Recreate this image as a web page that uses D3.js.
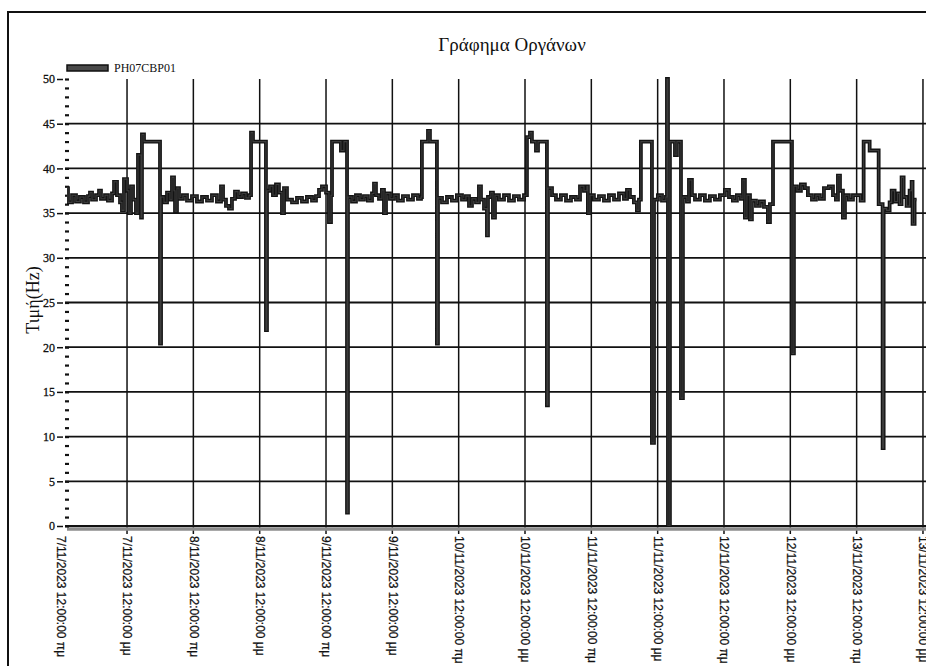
<!DOCTYPE html>
<html>
<head>
<meta charset="utf-8">
<script src="https://cdn.jsdelivr.net/npm/d3@7"></script>
<style>
  body { margin: 0; background: #fff; }
  svg { display: block; }
</style>
</head>
<body>
<svg id="chart" width="926" height="666"></svg>
<script>
// ---- data -------------------------------------------------------------
const chartTitle = "Γράφημα Οργάνων";
const seriesName = "PH07CBP01";
const yAxisTitle = "Τιμή(Hz)";

// sample timestamps (local time) and the instrument reading held from each one
const times = [
  "2023-11-07 01:08","2023-11-07 01:19","2023-11-07 02:03","2023-11-07 02:46","2023-11-07 03:29",
  "2023-11-07 04:13","2023-11-07 04:56","2023-11-07 05:18","2023-11-07 05:40","2023-11-07 06:23",
  "2023-11-07 06:56","2023-11-07 07:17","2023-11-07 08:01","2023-11-07 08:33","2023-11-07 09:17",
  "2023-11-07 09:39","2023-11-07 10:11","2023-11-07 10:44","2023-11-07 11:05","2023-11-07 11:27",
  "2023-11-07 12:00","2023-11-07 12:21","2023-11-07 12:43","2023-11-07 13:05","2023-11-07 13:37",
  "2023-11-07 13:59","2023-11-07 14:32","2023-11-07 14:42","2023-11-07 15:04","2023-11-07 17:58",
  "2023-11-07 18:09","2023-11-07 18:41","2023-11-07 19:14","2023-11-07 19:46","2023-11-07 20:08",
  "2023-11-07 20:30","2023-11-07 20:41","2023-11-07 21:02","2023-11-07 21:24","2023-11-07 22:07",
  "2023-11-07 22:51","2023-11-07 23:45",
  "2023-11-08 00:39","2023-11-08 01:34","2023-11-08 02:28","2023-11-08 03:22","2023-11-08 04:16",
  "2023-11-08 05:00","2023-11-08 05:22","2023-11-08 05:54","2023-11-08 06:27","2023-11-08 06:59",
  "2023-11-08 07:32","2023-11-08 08:04","2023-11-08 08:48","2023-11-08 09:31","2023-11-08 10:04",
  "2023-11-08 10:26","2023-11-08 10:47","2023-11-08 13:08","2023-11-08 13:19","2023-11-08 13:52",
  "2023-11-08 14:24","2023-11-08 14:57","2023-11-08 15:29","2023-11-08 16:02","2023-11-08 16:24",
  "2023-11-08 16:56","2023-11-08 17:51","2023-11-08 18:45","2023-11-08 19:39","2023-11-08 20:33",
  "2023-11-08 21:28","2023-11-08 22:11","2023-11-08 22:44","2023-11-08 23:16",
  "2023-11-09 00:00","2023-11-09 00:32","2023-11-09 00:54","2023-11-09 01:05","2023-11-09 02:42",
  "2023-11-09 03:15","2023-11-09 03:48","2023-11-09 03:58","2023-11-09 04:42","2023-11-09 05:25",
  "2023-11-09 06:09","2023-11-09 06:52","2023-11-09 07:35","2023-11-09 08:19","2023-11-09 08:41",
  "2023-11-09 09:02","2023-11-09 09:35","2023-11-09 10:07","2023-11-09 10:29","2023-11-09 10:51",
  "2023-11-09 11:34","2023-11-09 12:18","2023-11-09 13:01","2023-11-09 13:55","2023-11-09 14:50",
  "2023-11-09 15:44","2023-11-09 16:38","2023-11-09 17:11","2023-11-09 17:21","2023-11-09 18:27",
  "2023-11-09 18:48","2023-11-09 20:04","2023-11-09 20:15","2023-11-09 20:59","2023-11-09 21:53",
  "2023-11-09 22:47","2023-11-09 23:41",
  "2023-11-10 00:36","2023-11-10 01:19","2023-11-10 01:52","2023-11-10 02:24","2023-11-10 03:08",
  "2023-11-10 03:40","2023-11-10 04:02","2023-11-10 04:35","2023-11-10 05:07","2023-11-10 05:18",
  "2023-11-10 05:50","2023-11-10 06:12","2023-11-10 06:34","2023-11-10 07:17","2023-11-10 08:12",
  "2023-11-10 09:06","2023-11-10 10:00","2023-11-10 10:54","2023-11-10 11:49","2023-11-10 12:21",
  "2023-11-10 12:54","2023-11-10 13:15","2023-11-10 13:59","2023-11-10 14:21","2023-11-10 15:58",
  "2023-11-10 16:09","2023-11-10 16:53","2023-11-10 17:36","2023-11-10 18:30","2023-11-10 19:25",
  "2023-11-10 20:19","2023-11-10 21:13","2023-11-10 21:57","2023-11-10 22:40","2023-11-10 23:12",
  "2023-11-10 23:23","2023-11-10 23:45",
  "2023-11-11 00:28","2023-11-11 01:23","2023-11-11 02:17","2023-11-11 03:11","2023-11-11 04:06",
  "2023-11-11 05:00","2023-11-11 05:54","2023-11-11 06:27","2023-11-11 06:59","2023-11-11 07:42",
  "2023-11-11 08:15","2023-11-11 08:37","2023-11-11 08:58","2023-11-11 10:58","2023-11-11 11:20",
  "2023-11-11 12:03","2023-11-11 12:47","2023-11-11 13:30","2023-11-11 13:41","2023-11-11 13:52",
  "2023-11-11 14:13","2023-11-11 15:08","2023-11-11 15:29","2023-11-11 16:13","2023-11-11 16:34",
  "2023-11-11 17:18","2023-11-11 17:40","2023-11-11 18:12","2023-11-11 18:45","2023-11-11 19:39",
  "2023-11-11 20:33","2023-11-11 21:27","2023-11-11 22:22","2023-11-11 23:16",
  "2023-11-12 00:10","2023-11-12 00:54","2023-11-12 01:37","2023-11-12 02:20","2023-11-12 03:04",
  "2023-11-12 03:26","2023-11-12 03:47","2023-11-12 04:09","2023-11-12 04:42","2023-11-12 05:03",
  "2023-11-12 05:47","2023-11-12 06:30","2023-11-12 07:14","2023-11-12 07:57","2023-11-12 08:19",
  "2023-11-12 08:52","2023-11-12 12:18","2023-11-12 12:39","2023-11-12 13:12","2023-11-12 13:55",
  "2023-11-12 14:38","2023-11-12 15:11","2023-11-12 15:55","2023-11-12 16:38","2023-11-12 17:21",
  "2023-11-12 18:05","2023-11-12 18:59","2023-11-12 19:43","2023-11-12 20:15","2023-11-12 20:37",
  "2023-11-12 20:59","2023-11-12 21:31","2023-11-12 21:53","2023-11-12 22:36","2023-11-12 23:20",
  "2023-11-13 00:43","2023-11-13 01:16","2023-11-13 02:21","2023-11-13 03:59","2023-11-13 04:42",
  "2023-11-13 04:53","2023-11-13 05:25","2023-11-13 05:58","2023-11-13 06:20","2023-11-13 06:52",
  "2023-11-13 07:25","2023-11-13 07:46","2023-11-13 08:08","2023-11-13 08:30","2023-11-13 09:02",
  "2023-11-13 09:35","2023-11-13 09:57","2023-11-13 10:07","2023-11-13 10:29","2023-11-13 10:51"
];

const values = [
  37.8,36.2,37,36.3,36.8, 36.2,36.9,37.3,36.5,37, 37.5,36.6,37,36.4,37.2,
  38.5,37,36.2,35.3,38.8, 37.5,35,38,36.5,35, 41.5,34.5,43.8,43,20.4,
  36.8,36.2,37.3,36.5,39, 37.5,35.2,37.8,36.6,37, 36.4,36.9,
  36.3,36.8,36.4,37,36.3, 38,36.5,35.8,35.5,36.6, 37.4,36.8,37.2,36.7,37,
  44,43,21.9,37.5,38, 37,38.2,37.3,35,37.8, 36.5,36.2,36.7,36.3,36.8,
  36.4,36.9,37.6,38,
  37.3,34,37,43,42, 43,1.5,36.8,36.3,37, 36.5,36.9,36.4,37.2,38.3,
  37,36.6,37.6,35,37.2, 36.6,37,36.4,36.9,36.5, 37,36.6,36.8,43,44.2,
  43,20.4,36.7,36.2,36.8, 36.4,37,
  36.5,36.9,35.8,36.6,36.2, 38,36.5,35.5,32.5,36.8, 37.3,34.5,37,36.5,37,
  36.4,36.9,36.5,37,43.5, 44,43,42,43,13.5, 37.8,37,36.5,37,36.4,
  36.8,36.5,38,37.5,38, 35,37,
  36.5,36.9,36.4,37,36.5, 37.2,36.6,37.6,36.8,36.2, 35.3,36.5,43,9.3,36.5,
  37,36.4,36.8,50,0, 43,41.5,43,14.3,36.8, 36.3,38.7,37,36.5,37,
  36.4,36.9,36.5,37,
  37.6,36.8,36.4,37,36.6, 38.7,34.5,37,34.3,36.4, 35.8,36.3,35.7,34,36,
  43,19.3,38,37.5,38.2, 37.8,37,36.5,37,36.6, 37.8,38,37,36.5,39.2,
  37.5,34.5,37,36.5,37,
  36.4,43,42,36,8.7, 35.5,35.3,36.2,37.5,36.3, 37.2,36,39,36.8,35.8,
  37.5,38.5,33.8,36.5,36.5
];

const yTicks = [0, 5, 10, 15, 20, 25, 30, 35, 40, 45, 50];

const xTickTimes = [
  "2023-11-07 00:00","2023-11-07 12:00","2023-11-08 00:00","2023-11-08 12:00",
  "2023-11-09 00:00","2023-11-09 12:00","2023-11-10 00:00","2023-11-10 12:00",
  "2023-11-11 00:00","2023-11-11 12:00","2023-11-12 00:00","2023-11-12 12:00",
  "2023-11-13 00:00","2023-11-13 12:00"
];
const xTickLabels = [
  "7/11/2023 12:00:00 πμ","7/11/2023 12:00:00 μμ","8/11/2023 12:00:00 πμ","8/11/2023 12:00:00 μμ",
  "9/11/2023 12:00:00 πμ","9/11/2023 12:00:00 μμ","10/11/2023 12:00:00 πμ","10/11/2023 12:00:00 μμ",
  "11/11/2023 12:00:00 πμ","11/11/2023 12:00:00 μμ","12/11/2023 12:00:00 πμ","12/11/2023 12:00:00 μμ",
  "13/11/2023 12:00:00 πμ","13/11/2023 12:00:00 μμ"
];

// ---- layout -----------------------------------------------------------
const parse = d3.timeParse("%Y-%m-%d %H:%M");
const points = times.map((t, i) => ({ t: parse(t), v: values[i] }));
const tickDates = xTickTimes.map(parse);

const plot = { left: 67, right: 926, top: 79, bottom: 526 };
const serif = "'Liberation Serif', 'Times New Roman', serif";
const sans = "'Liberation Sans', Arial, sans-serif";

const svg = d3.select("#chart");

const x = d3.scaleTime()
  .domain([parse("2023-11-07 00:00"), parse("2023-11-14 00:00")])
  .range([60.7, 989.3]);
const y = d3.scaleLinear().domain([0, 50]).range([plot.bottom, plot.top]);

// outer frame
svg.append("rect")
  .attr("x", 8).attr("y", 12).attr("width", 940).attr("height", 700)
  .attr("fill", "none").attr("stroke", "#111").attr("stroke-width", 2);

// title
svg.append("text")
  .attr("x", 512).attr("y", 51)
  .attr("text-anchor", "middle")
  .style("font-family", serif).style("font-size", "19px").attr("fill", "#111")
  .text(chartTitle);

// legend
svg.append("rect")
  .attr("x", 67).attr("y", 65).attr("width", 41).attr("height", 6)
  .attr("fill", "#4a4a4a").attr("stroke", "#111").attr("stroke-width", 1.5);
svg.append("text")
  .attr("x", 114).attr("y", 72)
  .style("font-family", serif).style("font-size", "12px").attr("fill", "#111")
  .text(seriesName);

// horizontal grid
svg.append("g").selectAll("line")
  .data(yTicks.filter(v => v < 50))
  .join("line")
  .attr("x1", 65).attr("x2", plot.right)
  .attr("y1", d => y(d)).attr("y2", d => y(d))
  .attr("stroke", "#111").attr("stroke-width", 1.8);

// vertical grid (inside the plot only)
svg.append("g").selectAll("line")
  .data(tickDates.filter(d => x(d) >= plot.left))
  .join("line")
  .attr("x1", d => x(d)).attr("x2", d => x(d))
  .attr("y1", plot.top).attr("y2", plot.bottom + 8)
  .attr("stroke", "#111").attr("stroke-width", 1.5);

// grey base band along the time axis
svg.append("line")
  .attr("x1", plot.left).attr("x2", plot.right)
  .attr("y1", plot.bottom + 3).attr("y2", plot.bottom + 3)
  .attr("stroke", "#8c8c8c").attr("stroke-width", 3.5);

// y axis: major ticks + labels
const yAxis = svg.append("g")
  .attr("transform", "translate(63,0)")
  .call(d3.axisLeft(y).tickValues(yTicks).tickSize(6).tickPadding(2));
yAxis.select(".domain").remove();
yAxis.selectAll("line").attr("stroke", "#111").attr("stroke-width", 1.5);
yAxis.selectAll("text")
  .style("font-family", serif).style("font-size", "12px").attr("fill", "#111")
  .attr("stroke", "#111").attr("stroke-width", 0.3);

// y axis: minor ticks every unit
const yMinor = svg.append("g")
  .attr("transform", "translate(69,0)")
  .call(d3.axisLeft(y).tickValues(d3.range(0, 51, 1)).tickSize(4).tickFormat(""));
yMinor.select(".domain").remove();
yMinor.selectAll("line").attr("stroke", "#111").attr("stroke-width", 2.2);

// y axis title
svg.append("text")
  .attr("transform", "translate(39,300) rotate(-90)")
  .attr("text-anchor", "middle")
  .style("font-family", serif).style("font-size", "18px").attr("fill", "#111")
  .text(yAxisTitle);

// x axis labels, rotated
const xAxis = svg.append("g")
  .attr("transform", `translate(0,${plot.bottom + 1})`)
  .call(d3.axisBottom(x).tickValues(tickDates).tickSize(0)
    .tickFormat((d, i) => xTickLabels[i]));
xAxis.select(".domain").remove();
xAxis.selectAll("text")
  .attr("transform", "rotate(90)")
  .attr("x", 9).attr("y", 0).attr("dy", "0.35em")
  .style("text-anchor", "start")
  .style("font-family", sans).style("font-size", "12px").attr("fill", "#111")
  .attr("stroke", "#111").attr("stroke-width", 0.25);

// series
svg.append("clipPath").attr("id", "plotClip")
  .append("rect")
  .attr("x", plot.left).attr("y", plot.top - 2)
  .attr("width", plot.right - plot.left).attr("height", plot.bottom - plot.top + 2);

const line = d3.line()
  .x(d => x(d.t))
  .y(d => y(d.v))
  .curve(d3.curveStepAfter);

const series = svg.append("g").attr("clip-path", "url(#plotClip)");
series.append("path")
  .datum(points)
  .attr("d", line)
  .attr("fill", "none")
  .attr("stroke", "#141414")
  .attr("stroke-width", 3.8)
  .attr("stroke-linejoin", "miter");
series.append("path")
  .datum(points)
  .attr("d", line)
  .attr("fill", "none")
  .attr("stroke", "#3c3c3c")
  .attr("stroke-width", 1.1)
  .attr("stroke-linejoin", "miter");
</script>
</body>
</html>
